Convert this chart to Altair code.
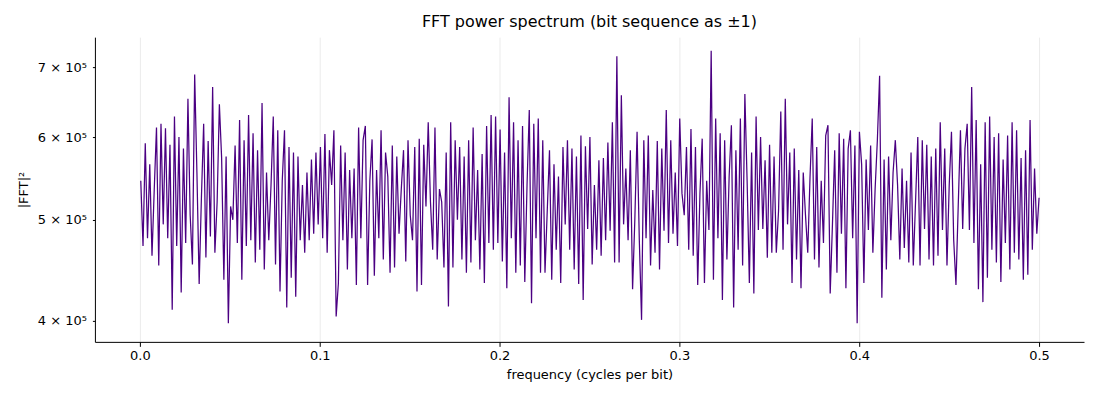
import numpy as np
import pandas as pd
import altair as alt

# |FFT|^2 values (units of 1e5), left to right
seg_a = [5.45,4.72,5.92,4.80,5.65,4.62,5.35,6.13,4.52,6.18,4.95,6.12,4.80,5.90,4.10,6.28,4.72,6.00,4.26,5.85,
         4.75,6.53,5.05,4.53,6.89,5.55,4.34,5.25,6.18,4.60,5.95,4.82,6.70,4.65,5.20,6.45]
seg_b = [5.73,4.38,5.75,3.98,5.15,5.00,5.89,4.75,6.23,4.38,5.96,4.72,6.30,4.78,6.05,4.55,5.83,4.68,6.47,4.48,
         5.55,4.78,5.40,6.28,4.53,6.09,4.27,5.45,6.09,4.12,5.87,4.40,5.80,4.22,5.75,4.78,5.40,4.65,5.55,4.78]
seg_c = [5.71,4.85,5.80,4.95,5.87,4.80,6.04,4.65,5.83,5.40,6.09,4.04,4.35,5.89,4.78,5.80,4.48,5.58,4.80,5.60,
         4.33,6.13,4.80,5.96,6.15,4.33,5.45,5.97,4.42,5.58,4.80,6.09,4.58,5.80,5.50,4.45,5.89,4.50,5.75,4.85]
seg_d = [5.35,5.83,4.56,5.96,5.05,4.78,5.87,4.27,5.98,4.33,5.90,5.15,6.20,5.20,4.68,6.13,4.58,5.35,5.20,4.50,
         5.80,4.13,6.20,4.50,5.96,5.00,5.87,4.58,5.75,4.45,5.96,4.55,6.13,4.78,5.58,4.48,5.78,4.35,6.15,4.75]
seg_e = [6.30,4.68,6.28,4.75,6.10,4.56,5.80,4.30,6.55,4.80,6.20,4.45,5.96,4.52,6.15,4.36,5.40,6.37,4.16,6.18,
         4.80,6.25,4.45,5.96,4.45,5.10,5.83,4.38,5.65,4.68,5.50,4.35,5.87,4.95,5.96,4.68,5.85,4.48,5.75,4.34]
seg_f = [6.02,4.19,5.88,4.90,6.00,4.53,5.40,4.68,5.70,4.62,5.73,4.78,5.93,4.88,6.20,4.55,7.17,4.55,6.58,4.95,
         5.60,4.78,5.83,4.29,5.00,6.07,4.78,4.01,5.96,4.80,6.02,4.52,5.34,4.65,5.95,4.48,5.85,4.88,6.37,4.75]
seg_g = [5.96,4.85,5.55,4.72,6.25,5.30,5.05,5.87,4.68,6.11,4.62,5.87,4.33,5.30,5.98,4.35,5.45,4.89,7.26,4.38,
         6.25,4.80,6.05,4.19,5.96,4.58,5.50,6.16,4.12,5.83,4.68,6.25,4.52,6.60,5.45,4.35,5.80,4.25,6.28,4.89]
seg_h = [6.00,4.90,5.70,4.60,5.90,4.65,5.75,4.65,5.10,6.35,4.68,6.53,4.95,5.80,4.35,5.85,4.58,5.58,4.30,5.55,
         5.05,4.65,5.48,6.25,4.58,5.87,4.50,5.45,4.75,6.02,6.16,4.25,4.95,5.83,4.45,6.05,4.85,5.98,4.30,5.85]
seg_i = [6.09,4.80,5.89,3.98,6.07,5.65,4.35,5.71,4.89,5.89,4.65,5.35,5.96,6.87,4.21,5.71,4.48,5.75,4.78,5.55,
         5.96,5.40,4.58,5.60,4.70,5.45,4.55,5.80,4.52,5.20,6.00,4.52,5.96,4.90,5.90,4.58,5.75,4.52,5.85,4.62]
seg_j = [6.20,4.89,5.85,4.52,5.40,6.07,4.78,4.33,5.15,6.09,4.90,5.85,6.18,4.89,6.70,4.75,6.23,4.29,5.65,4.17,
         6.20,4.40,6.28,4.68,6.00,4.55,6.05,4.36,5.71,4.75,6.02,4.48,6.20,4.65,6.09,4.58,5.73,4.38,5.83,4.43,
         6.23,4.68,5.60,4.85,5.25]

power_e5 = seg_a + seg_b + seg_c + seg_d + seg_e + seg_f + seg_g + seg_h + seg_i + seg_j
n = len(power_e5)
freq = np.linspace(0.0005, 0.5, n)  # evenly spaced frequency bins

df = pd.DataFrame({"freq": freq, "power": np.array(power_e5) * 1e5})

x_ticks = [0.0, 0.1, 0.2, 0.3, 0.4, 0.5]
y_ticks = [4e5, 5e5, 6e5, 7e5]
FONT = "DejaVu Sans"

chart = alt.Chart(df).mark_line(color="#4B0082", strokeWidth=1.25, clip=True).encode(
    x=alt.X("freq:Q",
            scale=alt.Scale(domain=[-0.025, 0.525], nice=False, zero=False),
            axis=alt.Axis(title="frequency (cycles per bit)", values=x_ticks, format=".1f",
                          grid=True, gridColor="#ebebeb", gridWidth=1,
                          domainColor="black", domainWidth=1, tickColor="black", tickSize=4.5,
                          labelPadding=3, labelFontSize=13, labelFont=FONT, labelColor="black",
                          titleFontSize=13, titleFont=FONT, titleFontWeight="normal",
                          titleColor="black", titlePadding=6, labelFlush=False)),
    y=alt.Y("power:Q",
            scale=alt.Scale(type="log", domain=[3.82e5, 7.48e5], nice=False, zero=False),
            axis=alt.Axis(title="|FFT|²", values=y_ticks,
                          labelExpr="format(datum.value/100000, 'd') + ' × 10⁵'",
                          grid=False, domainColor="black", domainWidth=1,
                          tickColor="black", tickSize=2.5, labelPadding=6,
                          labelFontSize=13, labelFont=FONT, labelColor="black",
                          titleFontSize=13, titleFont=FONT, titleFontWeight="normal",
                          titleColor="black", titlePadding=7)),
).properties(
    width=990,
    height=305,
    title=alt.TitleParams("FFT power spectrum (bit sequence as ±1)", font=FONT, fontSize=16,
                          fontWeight="normal", color="black", offset=7, anchor="middle"),
    padding={"left": 87, "top": 29, "right": 8, "bottom": 50},
    autosize=alt.AutoSizeParams(type="none"),
).configure_view(stroke=None)

chart.save("out.html", embed_options={"renderer": "svg", "actions": False})
